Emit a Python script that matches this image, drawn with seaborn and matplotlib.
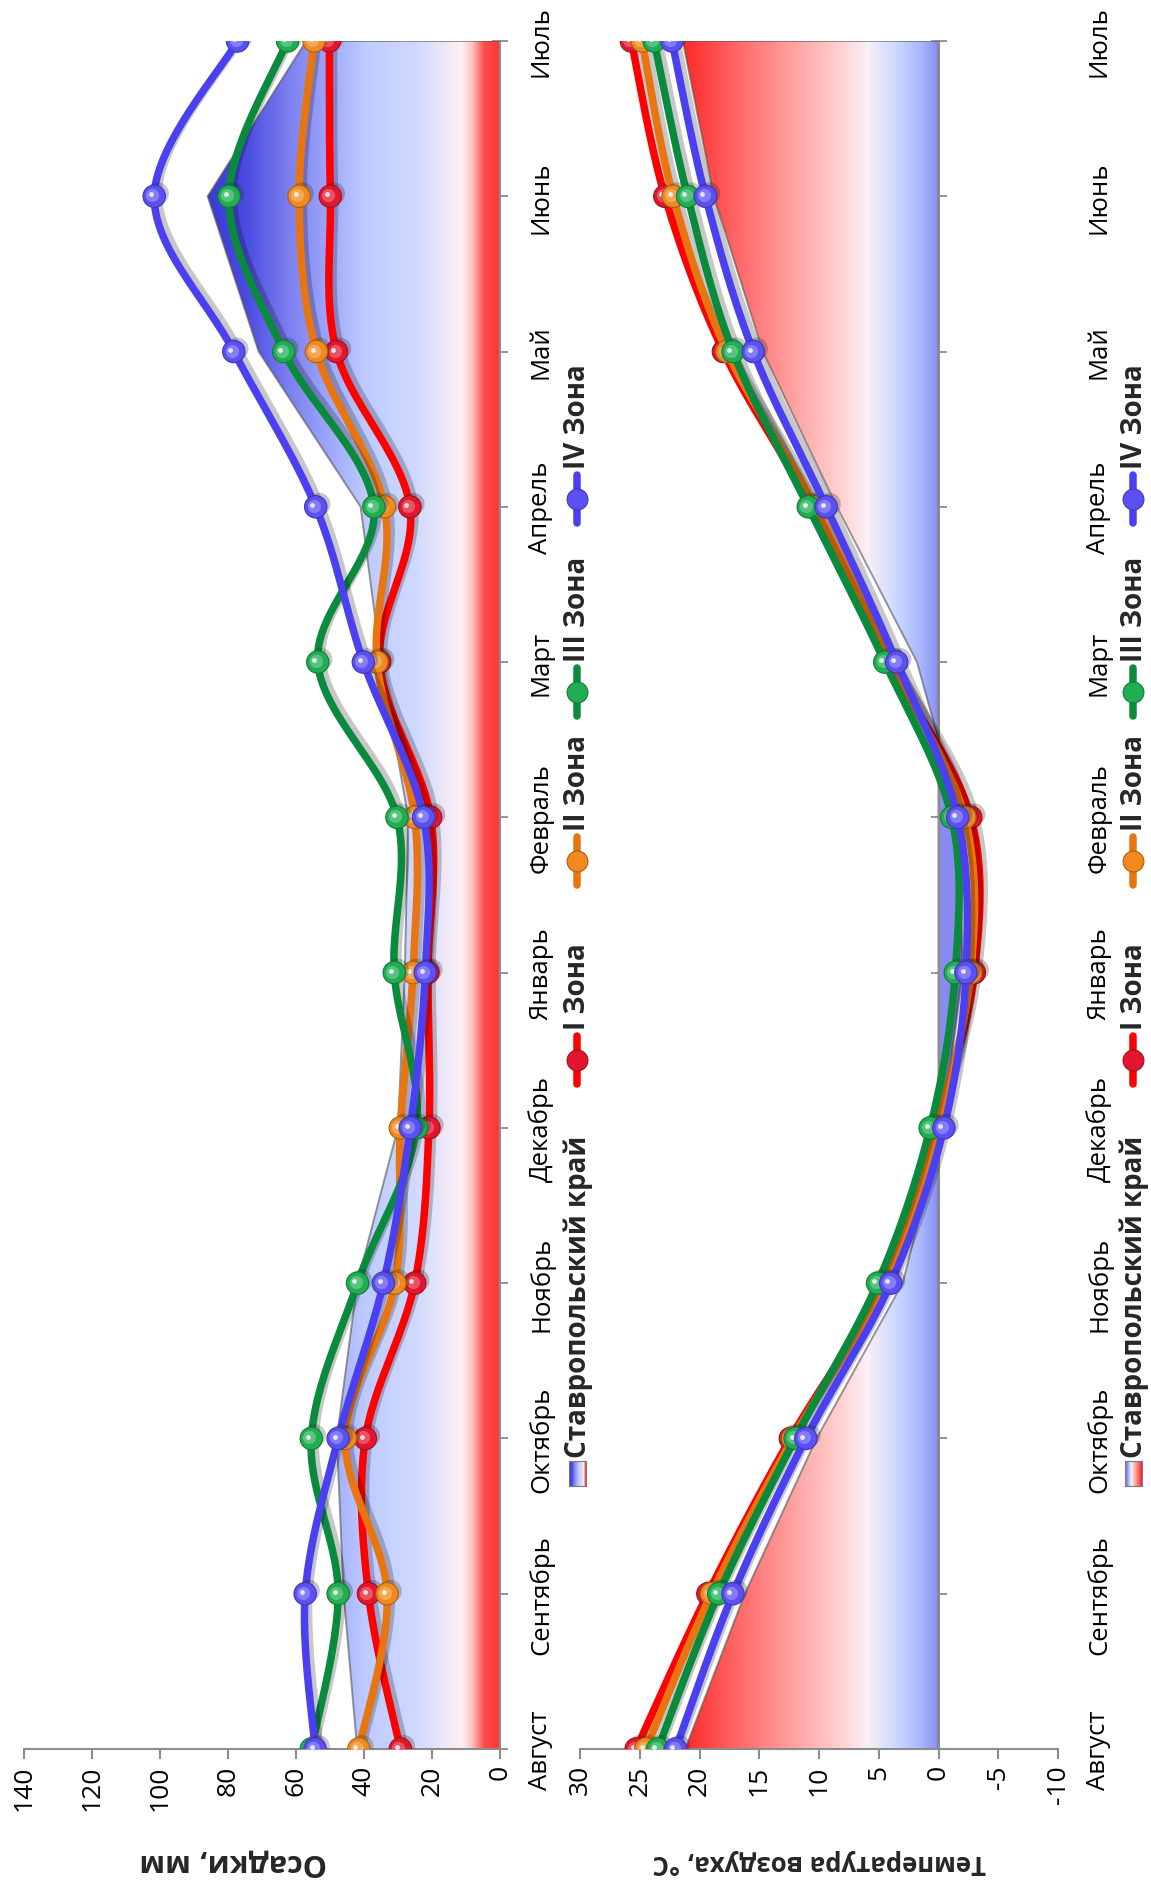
import numpy as np
import matplotlib
matplotlib.use("Agg")
import matplotlib.pyplot as plt
import seaborn as sns
from matplotlib.colors import LinearSegmentedColormap, to_rgb
from matplotlib.patches import Polygon
from matplotlib.lines import Line2D
from matplotlib import patheffects as pe
from matplotlib import transforms as mtrans

# ---------------- data ----------------
months = ["Август", "Сентябрь", "Октябрь", "Ноябрь", "Декабрь", "Январь",
          "Февраль", "Март", "Апрель", "Май", "Июнь", "Июль"]
krai_name = "Ставропольский край"
zone_names = ["I Зона", "II Зона", "III Зона", "IV Зона"]

# precipitation, mm
precip_krai = [42, 46, 48, 42, 30, 28, 27, 35, 41, 71, 86, 57]
precip_zone1 = [29.3, 38.7, 39.6, 25.1, 20.9, 21.2, 20.4, 35.4, 26.5, 48.1, 49.9, 50.2]
precip_zone2 = [41.5, 33.2, 45.5, 30.9, 29.3, 25.6, 25.1, 36.2, 34.0, 54.0, 59.1, 54.7]
precip_zone3 = [55.5, 47.6, 55.5, 41.9, 24.6, 31.1, 30.3, 53.6, 37.1, 63.6, 79.7, 62.5]
precip_zone4 = [54.4, 57.3, 47.6, 34.3, 26.4, 22.0, 22.5, 40.2, 54.2, 78.3, 101.7, 77.2]

# air temperature, °C
temp_krai = [21.2, 16.2, 10.2, 3.0, -0.3, -2.0, -1.8, 1.8, 8.5, 14.7, 18.8, 21.4]
temp_zone1 = [25.3, 19.3, 12.4, 4.6, 0.2, -3.0, -2.7, 4.1, 10.6, 18.0, 22.9, 25.7]
temp_zone2 = [24.5, 19.0, 12.2, 4.6, 0.2, -2.7, -2.2, 4.0, 10.3, 17.7, 22.2, 24.8]
temp_zone3 = [23.5, 18.4, 12.0, 5.1, 0.7, -1.4, -1.1, 4.5, 10.9, 17.2, 21.0, 23.8]
temp_zone4 = [22.0, 17.2, 11.1, 4.0, -0.45, -2.3, -1.6, 3.5, 9.4, 15.5, 19.5, 22.3]

precip_ticks = [0, 20, 40, 60, 80, 100, 120, 140]
temp_ticks = [-10, -5, 0, 5, 10, 15, 20, 25, 30]

# ---------------- style ----------------
line_colors = ["#ff0000", "#e8750f", "#0a8a3c", "#4b3ff2"]
marker_colors = ["#e2172d", "#f08a1e", "#1fae52", "#5a50f4"]
axis_gray = "#8c8c8c"

precip_stops = [(0, "#ff3636"), (4.5, "#ff4c4c"), (8, "#ffc4c4"), (11, "#fff0f2"),
                (17, "#ebe6f8"), (25, "#cfd9ff"), (40, "#bccaff"), (50, "#a0a8fa"),
                (62, "#7c80f0"), (75, "#4a4ae0"), (90, "#3434d2")]
temp_stops = [(-4, "#8586ec"), (0, "#8a8cf0"), (1.5, "#a9b8ff"), (4, "#d4deff"),
              (6, "#fbf0f4"), (8, "#ffd4d4"), (12, "#ffa4a4"), (17, "#ff6666"),
              (22, "#ff2020")]

sns.set_theme(style="white")
plt.rcParams["font.family"] = ["Open Sans", "DejaVu Sans"]

W, H = 1151, 1890
fig = plt.figure(figsize=(W / 100, H / 100), dpi=100)


def fx(px):
    return px / W


def fy(py):
    return 1 - py / H


month_pos = np.arange(len(months))


def stops_cmap(stops):
    lo, hi = stops[0][0], stops[-1][0]
    return LinearSegmentedColormap.from_list(
        "grad", [((v - lo) / (hi - lo), c) for v, c in stops]), lo, hi


def smooth_curve(vals, pos, n=28):
    P = np.column_stack([vals, pos]).astype(float)
    m = len(P)
    out = []
    for i in range(m - 1):
        p0, p1, p2, p3 = P[max(i - 1, 0)], P[i], P[i + 1], P[min(i + 2, m - 1)]
        c1 = p1 + (p2 - p0) / 6
        c2 = p2 - (p3 - p1) / 6
        t = np.linspace(0, 1, n)[:, None]
        seg = ((1 - t) ** 3) * p1 + 3 * ((1 - t) ** 2) * t * c1 + 3 * (1 - t) * t ** 2 * c2 + t ** 3 * p2
        out.append(seg if i == 0 else seg[1:])
    out = np.vstack(out)
    return out[:, 0], out[:, 1]


def mix(c, other, f):
    a, b = np.array(to_rgb(c)), np.array(to_rgb(other))
    return tuple(a * (1 - f) + b * f)


def gradient_area(ax, vals, stops):
    cmap, lo, hi = stops_cmap(stops)
    verts = [(0, month_pos[0])] + list(zip(vals, month_pos)) + [(0, month_pos[-1])]
    poly = Polygon(verts, closed=True, facecolor="none", edgecolor="#555555",
                   lw=1.4, alpha=0.6, zorder=1.2)
    ax.add_patch(poly)
    grad = np.linspace(0, 1, 800)[None, :]
    im = ax.imshow(grad, extent=[lo, hi, month_pos[0], month_pos[-1]], origin="lower",
                   aspect="auto", cmap=cmap, vmin=0, vmax=1, zorder=1,
                   interpolation="bilinear")
    im.set_clip_path(poly)


def draw_zone(ax, vals, lc, mc, z):
    cx, cy = smooth_curve(vals, month_pos)
    sns.lineplot(x=cx, y=cy, sort=False, estimator=None, color=lc, lw=5.4,
                 ax=ax, zorder=z, legend=False)
    ln = ax.lines[-1]
    ln.set_solid_capstyle("round")
    ln.set_path_effects([pe.SimpleLineShadow(offset=(3, 2.5), shadow_color="black",
                                             alpha=0.22, rho=1), pe.Normal()])
    sns.scatterplot(x=vals, y=month_pos, s=260, color=mc, edgecolor=mix(mc, "black", 0.3),
                    linewidth=0.8, ax=ax, zorder=z + 0.1, legend=False)
    coll = ax.collections[-1]
    coll.set_path_effects([pe.SimplePatchShadow(offset=(2.5, 2), alpha=0.25), pe.Normal()])
    hl = mtrans.offset_copy(ax.transData, fig=fig, x=-1.4, y=0.7, units="points")
    ax.scatter(vals, month_pos, s=90, color=mix(mc, "white", 0.35), alpha=0.75,
               linewidths=0, transform=hl, zorder=z + 0.2)
    hl2 = mtrans.offset_copy(ax.transData, fig=fig, x=-2.5, y=1.4, units="points")
    ax.scatter(vals, month_pos, s=12, color="white", alpha=0.8,
               linewidths=0, transform=hl2, zorder=z + 0.3)


def style_axes(ax, xlim, ticks, label, label_x, label_size):
    ax.set_xlim(*xlim)
    ax.set_ylim(month_pos[0], month_pos[-1])
    ax.set_facecolor("none")
    for s in ("top", "right"):
        ax.spines[s].set_visible(False)
    ax.spines["bottom"].set_color(axis_gray)
    ax.spines["bottom"].set_linewidth(1.5)
    ax.spines["left"].set_color(axis_gray)
    ax.spines["left"].set_linewidth(1.5)
    ax.spines["left"].set_position(("data", 0))
    ax.spines["left"].set_zorder(1.5)
    ax.set_xticks(ticks)
    ax.set_xticklabels([str(t) for t in ticks])
    ax.tick_params(axis="x", bottom=True, direction="out", length=7, width=1.5,
                   color=axis_gray, labelsize=19, labelrotation=90, pad=4,
                   labelcolor="black")
    ax.set_yticks(month_pos)
    ax.set_yticklabels(months, rotation=90, va="center")
    ax.tick_params(axis="y", left=True, right=False, labelleft=False, labelright=True,
                   direction="inout", length=11, width=1.3, color=axis_gray,
                   labelsize=18.5, pad=15, labelcolor="black")
    ax.grid(False)
    ax.set_xlabel(label, fontsize=label_size, fontweight="bold", rotation=180,
                  va="center", ha="center")
    ax.xaxis.set_label_coords(label_x, -0.0657)
    ax.set_ylabel("")


def draw_legend(x_c, stops, reverse):
    cmap, lo, hi = stops_cmap(stops)
    pax = fig.add_axes([fx(x_c - 8), fy(1487), fx(17), 25 / H])
    grad = np.linspace(0, 1, 100)[None, :]
    if reverse:
        grad = grad[:, ::-1]
    pax.imshow(grad, cmap=cmap, aspect="auto", vmin=0, vmax=1)
    pax.set_xticks([])
    pax.set_yticks([])
    for s in pax.spines.values():
        s.set_color("#7a7a7a")
        s.set_linewidth(0.8)
    fig.text(fx(x_c + 1), fy(1458), krai_name, rotation=90, ha="center", va="bottom",
             fontsize=20, fontweight="bold")
    handle_y = [1061, 862, 693, 500]
    for name, lc, mc, hy in zip(zone_names, line_colors, marker_colors, handle_y):
        fig.add_artist(Line2D([fx(x_c), fx(x_c)], [fy(hy + 24), fy(hy - 24)],
                              transform=fig.transFigure, color=lc, lw=5.4,
                              solid_capstyle="round"))
        fig.add_artist(Line2D([fx(x_c)], [fy(hy)], transform=fig.transFigure,
                              marker="o", ms=15, color=mc,
                              markeredgecolor=mix(mc, "black", 0.3), markeredgewidth=0.8))
        fig.text(fx(x_c + 1), fy(hy - 31), name, rotation=90, ha="center", va="bottom",
                 fontsize=20, fontweight="bold")


# ---------------- precipitation panel ----------------
ax_p = fig.add_axes([fx(24), fy(1750), fx(500) - fx(24), fy(42) - fy(1750)])
gradient_area(ax_p, precip_krai, precip_stops)
for i, vals in enumerate([precip_zone1, precip_zone2, precip_zone3, precip_zone4]):
    draw_zone(ax_p, vals, line_colors[i], marker_colors[i], 3 + i)
style_axes(ax_p, (140, 0), precip_ticks, "Осадки, мм", 0.44, 22)

# ---------------- temperature panel ----------------
ax_t = fig.add_axes([fx(580), fy(1750), fx(1058) - fx(580), fy(42) - fy(1750)])
gradient_area(ax_t, temp_krai, temp_stops)
for i, vals in enumerate([temp_zone1, temp_zone2, temp_zone3, temp_zone4]):
    draw_zone(ax_t, vals, line_colors[i], marker_colors[i], 3 + i)
style_axes(ax_t, (30, -10), temp_ticks, "Температура воздуха, °С", 0.50, 18.5)

draw_legend(577, precip_stops, reverse=True)
draw_legend(1133, temp_stops, reverse=False)

fig.savefig("out.png", dpi=100, facecolor="white")
